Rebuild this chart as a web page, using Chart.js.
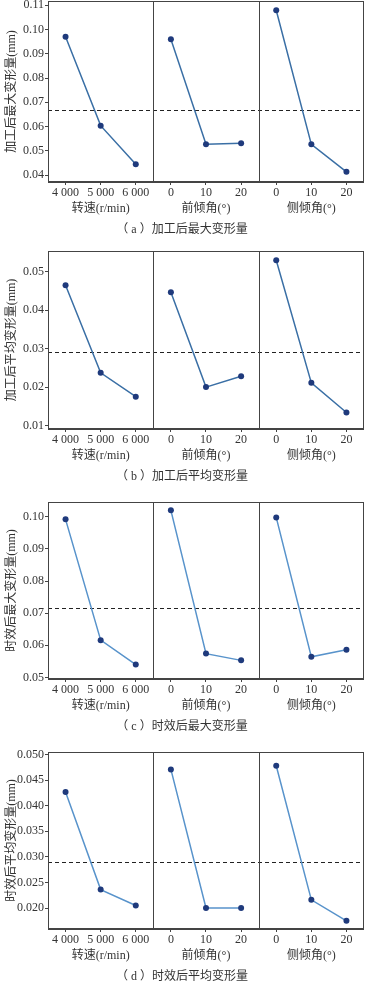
<!doctype html>
<html lang="zh">
  <head>
    <meta charset="utf-8">
    <title>主效应图</title>
    <script src="https://cdn.jsdelivr.net/npm/chart.js@4.4.0/dist/chart.umd.min.js"></script>
    <style>
      body { margin: 0; background: #fff; }
      canvas { position: absolute; left: 0; }
    </style>
  </head>
  <body>
    <canvas id="gA" width="366" height="240" style="top:0px"></canvas>
    <canvas id="gB" width="366" height="245" style="top:240px"></canvas>
    <canvas id="gC" width="366" height="251" style="top:485px"></canvas>
    <canvas id="gD" width="366" height="247" style="top:736px"></canvas>

  <script>
    // factor levels (x ticks)
    var speedLabels = ['4 000', '5 000', '6 000'];
    var rakeLabels = ['0', '10', '20'];
    var tiltLabels = ['0', '10', '20'];
    var factorTitles = ['转速(r/min)', '前倾角(°)', '侧倾角(°)'];

    // (a) 加工后最大变形量
    var cutMaxSpeed = [0.0970, 0.0604, 0.0445];
    var cutMaxRake = [0.0960, 0.0527, 0.0531];
    var cutMaxTilt = [0.1079, 0.0527, 0.0414];
    var cutMaxMean = 0.0670;

    // (b) 加工后平均变形量
    var cutAvgSpeed = [0.0465, 0.0237, 0.0175];
    var cutAvgRake = [0.0447, 0.0200, 0.0228];
    var cutAvgTilt = [0.0530, 0.0211, 0.0134];
    var cutAvgMean = 0.0290;

    // (c) 时效后最大变形量
    var ageMaxSpeed = [0.0992, 0.0616, 0.0540];
    var ageMaxRake = [0.1020, 0.0574, 0.0553];
    var ageMaxTilt = [0.0998, 0.0564, 0.0586];
    var ageMaxMean = 0.0715;

    // (d) 时效后平均变形量
    var ageAvgSpeed = [0.0427, 0.0236, 0.0205];
    var ageAvgRake = [0.0471, 0.0200, 0.0200];
    var ageAvgTilt = [0.0478, 0.0216, 0.0175];
    var ageAvgMean = 0.0289;

    Chart.defaults.font.family = "'Liberation Serif', 'Noto Sans CJK SC', serif";
    Chart.defaults.font.size = 12;
    Chart.defaults.color = '#333';

    // frame round the three sub plots + dashed overall mean
    const framePlugin = {
      id: 'frame',
      beforeDatasetsDraw(chart, args, opts) {
        const {ctx, chartArea, scales} = chart;
        const y = Math.round(scales.y.getPixelForValue(opts.mean)) + 0.5;
        ctx.save();
        ctx.strokeStyle = '#222';
        ctx.lineWidth = 1;
        ctx.setLineDash([4, 3]);
        ctx.beginPath();
        ctx.moveTo(chartArea.left, y);
        ctx.lineTo(chartArea.right, y);
        ctx.stroke();
        ctx.restore();
      },
      afterDraw(chart) {
        const {ctx, chartArea, scales} = chart;
        ctx.save();
        ctx.strokeStyle = '#444';
        ctx.lineWidth = 1;
        ctx.strokeRect(Math.round(chartArea.left) + 0.5, Math.round(chartArea.top) + 0.5,
          Math.round(chartArea.width) - 1, Math.round(chartArea.height) - 1);
        ['x2', 'x3'].forEach(function(id) {
          const x = Math.round(scales[id].left) + 0.5;
          ctx.beginPath();
          ctx.moveTo(x, chartArea.top);
          ctx.lineTo(x, chartArea.bottom);
          ctx.stroke();
        });
        ctx.restore();
      }
    };

    function xAxis(labels, title) {
      return {
        type: 'category',
        labels: labels,
        position: 'bottom',
        stack: 'factors',
        stackWeight: 1,
        offset: true,
        afterFit: function(scale) {
          scale.height = 42;
          scale.paddingLeft = 0;
          scale.paddingRight = 0;
        },
        grid: { offset: false, drawOnChartArea: false, tickLength: 3, color: '#444' },
        border: { display: true, color: '#444' },
        ticks: { padding: 1, maxRotation: 0, minRotation: 0, autoSkip: false, color: '#333' },
        title: { display: true, text: title, padding: { top: 0, bottom: 8 }, color: '#333' }
      };
    }

    function series(data, axis, color) {
      return {
        data: data,
        xAxisID: axis,
        yAxisID: 'y',
        borderColor: color,
        borderWidth: 1.5,
        backgroundColor: '#1f3a7c',
        pointBackgroundColor: '#1f3a7c',
        pointBorderColor: '#1f3a7c',
        pointBorderWidth: 0,
        pointRadius: 3,
        tension: 0
      };
    }

    function makeChart(id, p) {
      const config = {
        type: 'line',
        data: {
          datasets: [
            series(p.speed, 'x1', p.color),
            series(p.rake, 'x2', p.color),
            series(p.tilt, 'x3', p.color)
          ]
        },
        options: {
          responsive: false,
          animation: false,
          layout: { autoPadding: false, padding: { top: p.top, bottom: p.bottom, left: 0, right: 2 } },
          plugins: {
            legend: { display: false },
            tooltip: { enabled: false },
            title: {
              display: true,
              position: 'bottom',
              text: p.caption,
              color: '#333',
              font: { size: 12, weight: 'normal', lineHeight: 1 },
              padding: 0
            },
            frame: { mean: p.mean }
          },
          scales: {
            x1: xAxis(speedLabels, factorTitles[0]),
            x2: xAxis(rakeLabels, factorTitles[1]),
            x3: xAxis(tiltLabels, factorTitles[2]),
            y: {
              type: 'linear',
              position: 'left',
              min: p.min,
              max: p.max,
              afterFit: function(scale) {
                scale.width = 48;
                scale.paddingTop = 0;
                scale.paddingBottom = 0;
              },
              grid: { drawOnChartArea: false, tickLength: 3, color: '#444' },
              border: { display: true, color: '#444' },
              ticks: {
                stepSize: p.step,
                includeBounds: false,
                padding: 1,
                color: '#333',
                callback: function(v) { return v.toFixed(p.digits); }
              },
              title: { display: true, text: p.yTitle, padding: { top: 5, bottom: 0 }, color: '#333' }
            }
          }
        },
        plugins: [framePlugin]
      };
      return new Chart(document.getElementById(id), config);
    }

    makeChart('gA', {
      speed: cutMaxSpeed, rake: cutMaxRake, tilt: cutMaxTilt, mean: cutMaxMean,
      min: 0.0372, max: 0.1117, step: 0.01, digits: 2,
      yTitle: '加工后最大变形量(mm)', caption: '（ a ）加工后最大变形量',
      top: 1, bottom: 4, color: '#3a6fa5'
    });
    makeChart('gB', {
      speed: cutAvgSpeed, rake: cutAvgRake, tilt: cutAvgTilt, mean: cutAvgMean,
      min: 0.0091, max: 0.0554, step: 0.01, digits: 2,
      yTitle: '加工后平均变形量(mm)', caption: '（ b ）加工后平均变形量',
      top: 11, bottom: 2, color: '#3a6fa5'
    });
    makeChart('gC', {
      speed: ageMaxSpeed, rake: ageMaxRake, tilt: ageMaxTilt, mean: ageMaxMean,
      min: 0.0495, max: 0.1046, step: 0.01, digits: 2,
      yTitle: '时效后最大变形量(mm)', caption: '（ c ）时效后最大变形量',
      top: 17, bottom: 3, color: '#5893cb'
    });
    makeChart('gD', {
      speed: ageAvgSpeed, rake: ageAvgRake, tilt: ageAvgTilt, mean: ageAvgMean,
      min: 0.0159, max: 0.0505, step: 0.005, digits: 3,
      yTitle: '时效后平均变形量(mm)', caption: '（ d ）时效后平均变形量',
      top: 16, bottom: 0, color: '#5893cb'
    });
  </script>
  </body>
</html>
